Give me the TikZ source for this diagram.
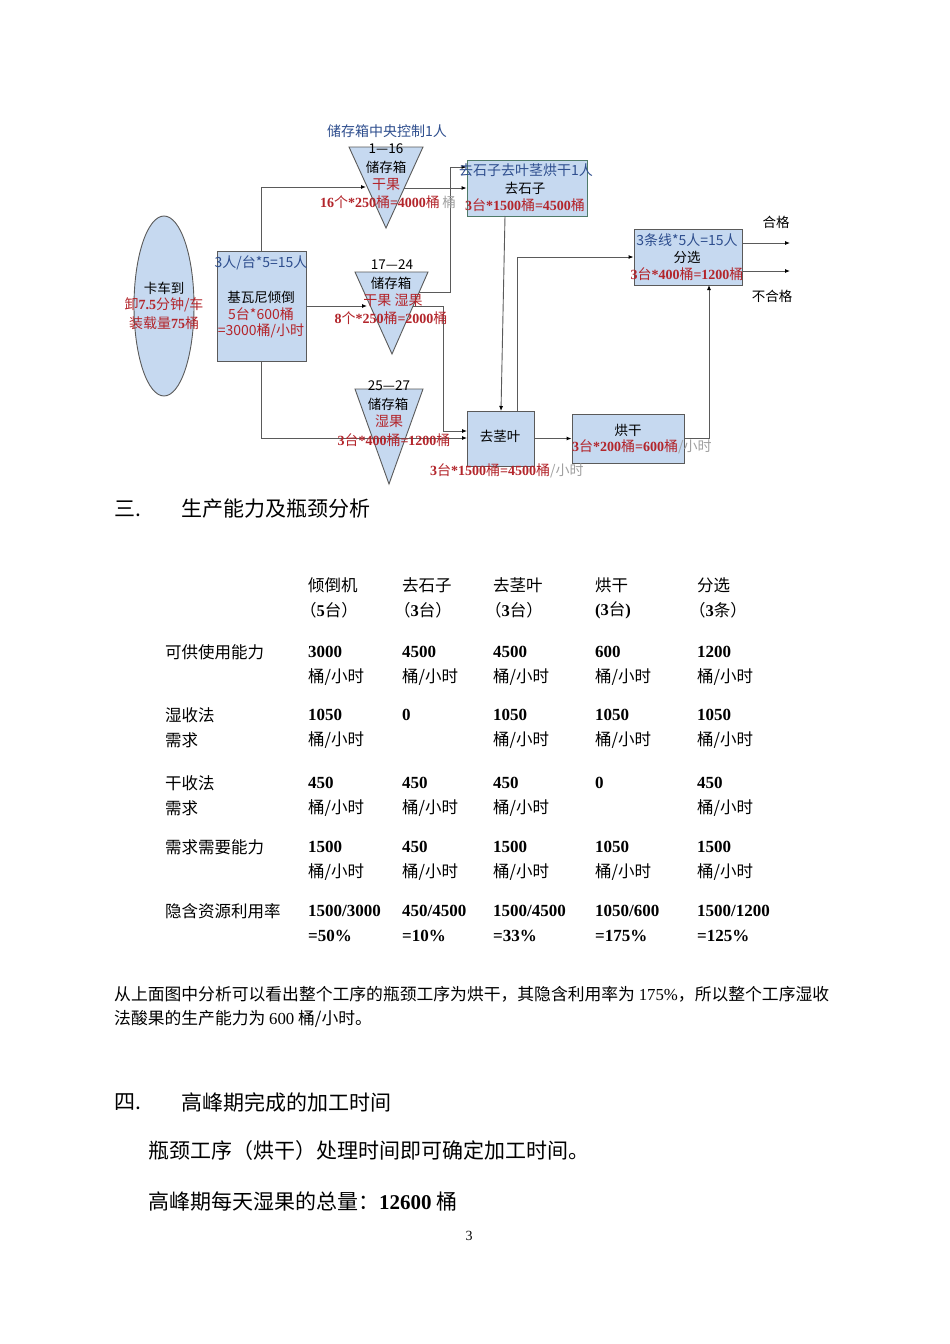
\documentclass[tikz,border=0pt]{standalone}
\usepackage{fontspec}
\setmainfont{Liberation Serif}
\newfontfamily\cjk{Noto Sans CJK SC}
\usetikzlibrary{shapes.geometric,arrows.meta}
\definecolor{boxfill}{HTML}{C6D9F0}
\definecolor{boxline}{HTML}{5A5A5A}
\definecolor{stoneline}{HTML}{4F7A68}
\definecolor{redt}{HTML}{B3252B}
\definecolor{bluet}{HTML}{2E4E8E}
\definecolor{grayt}{HTML}{A0A0A0}
\newcommand\dg[1]{{\rmfamily\bfseries #1}}
\begin{document}
\begin{tikzpicture}[x=1pt,y=-1pt,
  proc/.style={draw=boxline, fill=boxfill, line width=0.9pt, inner sep=0},
  tri/.style={draw=boxline, fill=boxfill, line width=0.9pt},
  conn/.style={draw=boxline, line width=0.9pt, -{Latex[length=5pt,width=4pt,color=black]}},
  dt/.style={font=\cjk\fontsize{13.5}{15}\selectfont, inner sep=0},
  rt/.style={dt, text=redt, font=\cjk\fontsize{14}{15}\selectfont},
  bt/.style={dt, text=bluet, font=\cjk\fontsize{14}{15}\selectfont},
  tb/.style={font=\cjk\fontsize{16.5}{18}\selectfont, anchor=west, inner sep=0},
  num/.style={font=\rmfamily\bfseries\fontsize{17}{19}\selectfont, anchor=west, inner sep=0},
  big/.style={font=\cjk\fontsize{21}{24}\selectfont, anchor=west, inner sep=0},
  para/.style={font=\cjk\fontsize{16.8}{19}\selectfont, anchor=west, inner sep=0}]
\useasboundingbox (0,0) rectangle (950,1344);
\fill[white] (0,0) rectangle (950,1344);

% ---------- shapes ----------
\node[proc, ellipse, minimum width=60, minimum height=180] (truck) at (164,306) {};
\node[proc, minimum width=89, minimum height=110] (dump) at (261.5,306) {};
\node[proc, draw=stoneline, minimum width=120, minimum height=56] (stones) at (527,188) {};
\node[proc, minimum width=108, minimum height=56] (sort) at (688,257) {};
\node[proc, minimum width=67, minimum height=55] (stem) at (500.5,438.5) {};
\node[proc, minimum width=112, minimum height=49] (dry) at (628,438.5) {};

\coordinate (t1a) at (349,147); \coordinate (t1b) at (423,147); \coordinate (t1c) at (386,228);
\coordinate (t2a) at (355,272); \coordinate (t2b) at (428,272); \coordinate (t2c) at (392,354);
\coordinate (t3a) at (355,389); \coordinate (t3b) at (423,389); \coordinate (t3c) at (389,484);
\draw[tri] (t1a) -- (t1b) -- (t1c) -- cycle;
\draw[tri] (t2a) -- (t2b) -- (t2c) -- cycle;
\draw[tri] (t3a) -- (t3b) -- (t3c) -- cycle;

% ---------- connector points ----------
\coordinate (t1in) at (366,187);
\coordinate (t1out) at (404,188);
\coordinate (t2in) at (367,306);
\coordinate (t2o) at (419,292);
\coordinate (b1) at (450,292);
\coordinate (b2) at (450,167);
\coordinate (t2o2) at (413,306);
\coordinate (b3) at (443,306);
\coordinate (sin1) at (467,431);
\coordinate (sin2) at (467,438);
\coordinate (so) at (505,216);
\coordinate (si) at (501,411);
\coordinate (stemup) at (517,411);
\coordinate (sortin) at (709,285);
\coordinate (sout1) at (742,243);
\coordinate (ok1) at (790,243);
\coordinate (sout2) at (742,271);
\coordinate (ok2) at (790,271);

% ---------- connectors ----------
\draw[conn] (dump.north) |- (t1in);
\draw[conn] (t1out) -- (t1out -| stones.west);
\draw[conn] (t2o) -- (b1) -- (b2) -- (b2 -| stones.west);
\draw[conn] (dump.east) -- (t2in);
\draw[conn] (t2o2) -- (b3) |- (sin1);
\draw[conn] (dump.south) |- (sin2);
\draw[conn] (so) -- (si);
\draw[conn] (stemup) |- (sort.west);
\draw[conn] (stem.east) -- (dry.west);
\draw[conn] (dry.east) -| (sortin);
\draw[conn] (sout1) -- (ok1);
\draw[conn] (sout2) -- (ok2);

% ---------- diagram texts ----------
\node[dt] (truckt1) at (164,288) {卡车到};
\node[rt] (truckt2) at (164,305) {卸\dg{7.5}分钟/车};
\node[rt] (truckt3) at (164,323) {装载量\dg{75}桶};

\node[bt] (dumpt0) at (261,263) {3人/台*5=15人};
\node[dt] (dumpt1) at (261,297) {基瓦尼倾倒};
\node[rt] (dumpt2) at (261,314) {5台*600桶};
\node[rt] (dumpt3) at (261,331) {=3000桶/小时};

\node[bt] (ctrl) at (387,131) {储存箱中央控制1人};
\node[dt] (t1n) at (386,149) {1—16};
\node[dt] (t1s) at (386,167) {储存箱};
\node[rt] (t1k) at (386,185) {干果};
\node[rt] (t1q) at (380,202) {\dg{16}个\dg{*250}桶\dg{=4000}桶};
\node[dt, text=grayt] (t1g) at (449,202) {桶};

\node[dt] (t2n) at (392,265) {17—24};
\node[dt] (t2s) at (391,283) {储存箱};
\node[rt] (t2k) at (393,300) {干果 湿果};
\node[rt] (t2q) at (391,318) {\dg{8}个\dg{*250}桶\dg{=2000}桶};

\node[dt] (t3n) at (389,386) {25—27};
\node[dt] (t3s) at (388,404) {储存箱};
\node[rt] (t3k) at (389,421) {湿果};
\node[rt] (t3q) at (394,440) {\dg{3}台\dg{*400}桶\dg{=1200}桶};

\node[bt] (stonet0) at (526,170) {去石子去叶茎烘干1人};
\node[dt] (stonet1) at (525,188) {去石子};
\node[rt] (stonet2) at (525,205) {\dg{3}台\dg{*1500}桶\dg{=4500}桶};

\node[bt] (sortt0) at (687,240) {3条线*5人=15人};
\node[dt] (sortt1) at (687,257) {分选};
\node[rt] (sortt2) at (687,274) {\dg{3}台\dg{*400}桶\dg{=1200}桶};

\node[dt] (stemt) at (500,436) {去茎叶};
\node[rt, anchor=west] (stemq) at (430,471) {\dg{3}台\dg{*1500}桶\dg{=4500}桶\color{grayt}/小时};

\node[dt] (dryt) at (628,430) {烘干};
\node[rt, anchor=west] (dryq) at (572,447) {\dg{3}台\dg{*200}桶\dg{=600}桶\color{grayt}/小时};

\node[dt] (okt) at (776,222) {合格};
\node[dt] (nokt) at (772,296) {不合格};

% ---------- section 3 ----------
\node[big] (s3n) at (114,509) {三.};
\node[big] (s3t) at (181,509) {生产能力及瓶颈分析};

\foreach \t/\x [count=\i] in {倾倒机/308,去石子/402,去茎叶/493,烘干/595,分选/697}
  \node[tb] (h\i) at (\x,585) {\t};
\node[tb] (g1) at (300,610) {（\dg{5}台）};
\node[tb] (g2) at (394,610) {（\dg{3}台）};
\node[tb] (g3) at (485,610) {（\dg{3}台）};
\node[tb] (g4) at (595,610) {\dg{(3}台\dg{)}};
\node[tb] (g5) at (689,610) {（\dg{3}条）};

\node[tb] (l1) at (165,652) {可供使用能力};
\node[tb] (l2a) at (165,715) {湿收法};
\node[tb] (l2b) at (165,740) {需求};
\node[tb] (l3a) at (165,783) {干收法};
\node[tb] (l3b) at (165,808) {需求};
\node[tb] (l4) at (165,847) {需求需要能力};
\node[tb] (l5) at (165,911) {隐含资源利用率};

\foreach \v/\x [count=\i] in {3000/308,4500/402,4500/493,600/595,1200/697}
  \node[num] (r1n\i) at (\x,652) {\v};
\foreach \x [count=\i] in {308,402,493,595,697}
  \node[tb] (r1u\i) at (\x,677) {桶/小时};

\foreach \v/\x [count=\i] in {1050/308,0/402,1050/493,1050/595,1050/697}
  \node[num] (r2n\i) at (\x,715) {\v};
\foreach \x [count=\i] in {308,493,595,697}
  \node[tb] (r2u\i) at (\x,740) {桶/小时};

\foreach \v/\x [count=\i] in {450/308,450/402,450/493,0/595,450/697}
  \node[num] (r3n\i) at (\x,783) {\v};
\foreach \x [count=\i] in {308,402,493,697}
  \node[tb] (r3u\i) at (\x,808) {桶/小时};

\foreach \v/\x [count=\i] in {1500/308,450/402,1500/493,1050/595,1500/697}
  \node[num] (r4n\i) at (\x,847) {\v};
\foreach \x [count=\i] in {308,402,493,595,697}
  \node[tb] (r4u\i) at (\x,872) {桶/小时};

\node[num] (r5n1) at (308,911) {1500/3000};
\node[num] (r5n2) at (402,911) {450/4500};
\node[num] (r5n3) at (493,911) {1500/4500};
\node[num] (r5n4) at (595,911) {1050/600};
\node[num] (r5n5) at (697,911) {1500/1200};
\foreach \v/\x [count=\i] in {50/308,10/402,33/493,175/595,125/697}
  \node[num] (r5p\i) at (\x,936) {=\v\%};

\node[para] (p1) at (114,994) {从上面图中分析可以看出整个工序的瓶颈工序为烘干，其隐含利用率为 {\rmfamily 175\%}，所以整个工序湿收};
\node[para] (p2) at (114,1019) {法酸果的生产能力为 {\rmfamily 600} 桶/小时。};

% ---------- section 4 ----------
\node[big] (s4n) at (114,1102) {四.};
\node[big] (s4t) at (181,1102) {高峰期完成的加工时间};
\node[big] (b1t) at (148,1151) {瓶颈工序（烘干）处理时间即可确定加工时间。};
\node[big] (b2t) at (148,1201) {高峰期每天湿果的总量：{\rmfamily\bfseries 12600} 桶};

\node[font=\rmfamily\fontsize{14}{16}\selectfont, inner sep=0] (pg) at (469,1236) {3};
\end{tikzpicture}
\end{document}
